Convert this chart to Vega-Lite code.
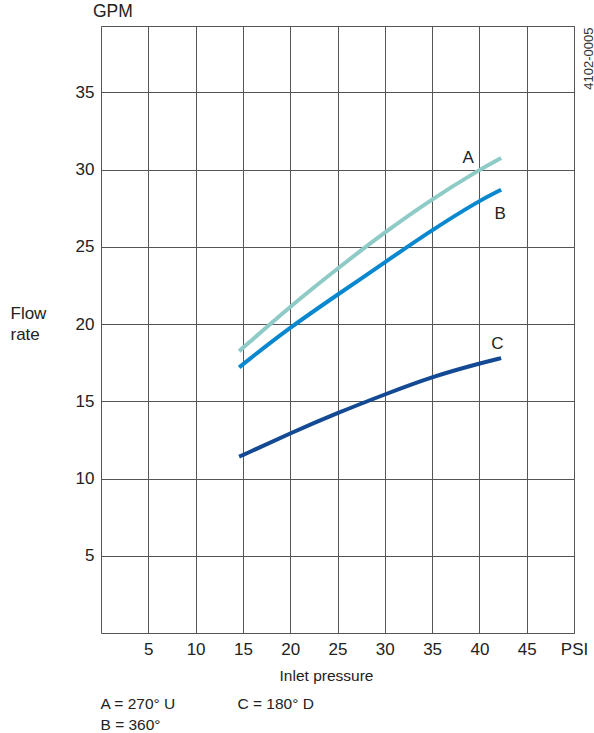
{
  "$schema": "https://vega.github.io/schema/vega-lite/v6.json",
  "width": 473,
  "height": 607,
  "autosize": {"type": "none"},
  "padding": {"left": 101, "top": 26, "right": 20, "bottom": 100},
  "background": "white",
  "config": {
    "view": {"stroke": "#555555", "strokeWidth": 1},
    "font": "Liberation Sans",
    "axis": {"labelFont": "Liberation Sans", "titleFont": "Liberation Sans", "gridColor": "#555555", "gridOpacity": 1, "gridWidth": 1},
    "legend": {"labelFont": "Liberation Sans"}
  },
  "title": {"text": "GPM", "anchor": "start", "frame": "group", "dx": -8, "offset": 6, "fontSize": 17.5, "fontWeight": "normal", "color": "#222222", "font": "Liberation Sans"},
  "datasets": {
    "curves": [
      {"series": "A", "psi": 14.6, "gpm": 18.25},
      {"series": "A", "psi": 15, "gpm": 18.45},
      {"series": "A", "psi": 20, "gpm": 21.15},
      {"series": "A", "psi": 25, "gpm": 23.6},
      {"series": "A", "psi": 30, "gpm": 25.95},
      {"series": "A", "psi": 35, "gpm": 28.1},
      {"series": "A", "psi": 40, "gpm": 30.0},
      {"series": "A", "psi": 42.3, "gpm": 30.75},
      {"series": "B", "psi": 14.6, "gpm": 17.2},
      {"series": "B", "psi": 15, "gpm": 17.4},
      {"series": "B", "psi": 20, "gpm": 19.8},
      {"series": "B", "psi": 25, "gpm": 21.9},
      {"series": "B", "psi": 30, "gpm": 24.0},
      {"series": "B", "psi": 35, "gpm": 26.1},
      {"series": "B", "psi": 40, "gpm": 28.0},
      {"series": "B", "psi": 42.3, "gpm": 28.7},
      {"series": "C", "psi": 14.6, "gpm": 11.42},
      {"series": "C", "psi": 15, "gpm": 11.52},
      {"series": "C", "psi": 20, "gpm": 12.93},
      {"series": "C", "psi": 25, "gpm": 14.25},
      {"series": "C", "psi": 30, "gpm": 15.45},
      {"series": "C", "psi": 35, "gpm": 16.6},
      {"series": "C", "psi": 40, "gpm": 17.45},
      {"series": "C", "psi": 42.3, "gpm": 17.8}
    ],
    "labels": [
      {"label": "A", "psi": 38.8, "gpm": 30.75},
      {"label": "B", "psi": 42.2, "gpm": 27.16},
      {"label": "C", "psi": 41.9, "gpm": 18.7}
    ]
  },
  "layer": [
    {
      "data": {"name": "curves"},
      "mark": {"type": "line", "strokeWidth": 4, "interpolate": "basis"},
      "encoding": {
        "x": {
          "field": "psi", "type": "quantitative",
          "scale": {"domain": [0, 50], "nice": false, "zero": false},
          "axis": {
            "values": [5, 10, 15, 20, 25, 30, 35, 40, 45, 50],
            "labelExpr": "datum.value == 50 ? 'PSI' : datum.label",
            "title": "Inlet pressure",
            "grid": true, "ticks": false, "domain": false,
            "labelPadding": 8, "labelFontSize": 17, "labelColor": "#222222", "labelFlush": false,
            "titleFontSize": 15.5, "titleFontWeight": "normal", "titleColor": "#222222",
            "titleX": 225, "titleY": 47, "titleBaseline": "alphabetic", "titleAlign": "center"
          }
        },
        "y": {
          "field": "gpm", "type": "quantitative",
          "scale": {"domain": [0, 39.3], "nice": false},
          "axis": {
            "values": [5, 10, 15, 20, 25, 30, 35],
            "title": ["Flow", "rate"],
            "titleAngle": 0, "titleAlign": "left", "titleBaseline": "alphabetic",
            "titleX": -91, "titleY": 292, "titleLineHeight": 21,
            "titleFontSize": 17, "titleFontWeight": "normal", "titleColor": "#222222",
            "grid": true, "ticks": false, "domain": false,
            "labelPadding": 7, "labelFontSize": 17, "labelColor": "#222222"
          }
        },
        "color": {
          "field": "series", "type": "nominal",
          "scale": {"domain": ["A", "C", "B"], "range": ["#8ECAC6", "#134A93", "#0A88CF"]},
          "legend": {
            "orient": "none", "legendX": -16, "legendY": 670,
            "direction": "horizontal", "columns": 2,
            "title": null, "padding": 0,
            "symbolSize": 0, "symbolOpacity": 0, "symbolStrokeWidth": 0, "labelOffset": 0,
            "labelFontSize": 15.5, "labelColor": "#222222",
            "columnPadding": 45, "rowPadding": 4,
            "labelExpr": "datum.label == 'A' ? 'A = 270° U' : (datum.label == 'B' ? 'B = 360°' : 'C = 180° D')"
          }
        }
      }
    },
    {
      "data": {"name": "labels"},
      "mark": {"type": "text", "fontSize": 17, "color": "#222222", "align": "center", "baseline": "middle", "font": "Liberation Sans"},
      "encoding": {
        "x": {"field": "psi", "type": "quantitative"},
        "y": {
          "field": "gpm", "type": "quantitative",
          "axis": {
            "orient": "right", "labels": false, "ticks": false, "domain": false, "grid": false,
            "title": "4102-0005", "titleAngle": -90, "titleAlign": "right", "titleBaseline": "middle",
            "titleX": 14, "titleY": 1, "titleFontSize": 13, "titleFontWeight": "normal", "titleColor": "#333333"
          }
        },
        "text": {"field": "label"}
      }
    }
  ],
  "resolve": {"axis": {"y": "independent"}}
}
